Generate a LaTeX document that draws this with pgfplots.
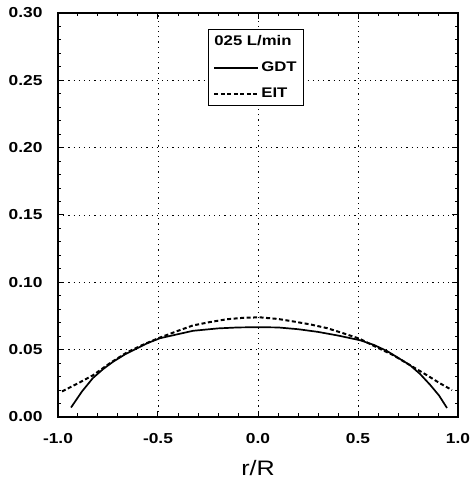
\documentclass[border=0pt]{standalone}
\usepackage{fontspec}
\setmainfont{Liberation Sans}
\newfontfamily\wide[FakeStretch=1.2]{Liberation Sans}
\usepackage{pgfplots}
\pgfplotsset{compat=1.18}

% velocity profiles, 025 L/min
\pgfplotstableread{
x y
-0.935 0.007
-0.88 0.019
-0.825 0.029
-0.775 0.0355
-0.725 0.041
-0.665 0.0465
-0.605 0.051
-0.55 0.055
-0.49 0.0585
-0.40 0.0615
-0.325 0.064
-0.20 0.0658
-0.10 0.0665
0.00 0.0667
0.10 0.0665
0.20 0.0652
0.30 0.0632
0.40 0.0605
0.51 0.057
0.58 0.0535
0.645 0.049
0.70 0.044
0.76 0.0385
0.81 0.032
0.86 0.024
0.905 0.016
0.945 0.0067
}\gdt

\pgfplotstableread{
x y
-0.98 0.019
-0.90 0.025
-0.825 0.031
-0.74 0.040
-0.655 0.048
-0.57 0.054
-0.49 0.059
-0.40 0.064
-0.325 0.068
-0.24 0.0705
-0.155 0.0726
-0.07 0.0737
0.01 0.074
0.10 0.0728
0.175 0.071
0.26 0.0688
0.345 0.066
0.43 0.062
0.51 0.058
0.59 0.052
0.675 0.046
0.76 0.0385
0.845 0.031
0.91 0.025
0.97 0.020
}\eit

\begin{document}
\begin{tikzpicture}
\begin{axis}[
    name=ax,
    scale only axis,
    width=400bp, height=404bp,
    xmin=-1, xmax=1, ymin=0, ymax=0.30,
    xtick={-1,-0.5,0,0.5,1},
    ytick={0,0.05,0.10,0.15,0.20,0.25,0.30},
    minor x tick num=4, minor y tick num=4,
    tick align=inside,
    major tick length=6bp, minor tick length=3.5bp,
    axis line style={line width=1.8bp},
    every tick/.style={black, line width=1bp},
    grid=major,
    major grid style={black, line width=0.8bp, dash pattern=on 1.2bp off 4bp},
    /pgf/number format/assume math mode=true,
    ticklabel style={font=\wide\fontsize{14.5}{16}\selectfont\bfseries},
    xticklabel style={yshift=-13bp, /pgf/number format/.cd, fixed, fixed zerofill, precision=1},
    yticklabel style={xshift=-12bp, /pgf/number format/.cd, fixed, fixed zerofill, precision=2},
    xlabel={r/R},
    xlabel style={font=\wide\fontsize{21}{23}\selectfont, yshift=-10bp},
    legend image code/.code={\draw[#1] (0bp,0bp) -- (44bp,0bp);},
    legend style={at={(axis cs:-0.25,0.288)}, anchor=north west,
        draw=black, line width=0.8bp, font=\wide\fontsize{14}{16}\selectfont\bfseries,
        inner xsep=5bp, inner ysep=4bp, row sep=11bp},
    legend cell align=left,
]
\addlegendimage{empty legend}
\addlegendentry{\hspace*{-47bp}025 L/min}
\addplot[black, line width=1.7bp] table[x=x, y=y] {\gdt};
\addlegendentry{GDT}
\addplot[black, line width=2bp, dash pattern=on 4bp off 2.5bp] table[x=x, y=y] {\eit};
\addlegendentry{EIT}
\end{axis}
\pgfresetboundingbox
\useasboundingbox ([xshift=-58bp,yshift=-62bp]ax.south west) rectangle ([xshift=14bp,yshift=13bp]ax.north east);
\end{tikzpicture}
\end{document}
